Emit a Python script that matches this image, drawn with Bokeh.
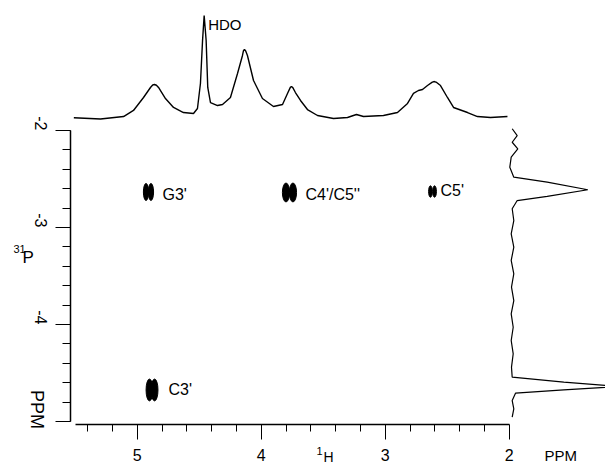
import math
from bokeh.plotting import figure
from bokeh.models import Range1d, LinearAxis, FixedTicker, Label
from bokeh.core.properties import value
from bokeh.embed import file_html
from bokeh.resources import INLINE

# ---------------- data ----------------
# 1H projection (top): chemical shift (ppm) and intensity (HDO = 100)
h_ppm = [5.511, 5.296, 5.110, 5.030, 4.949, 4.893, 4.875, 4.860, 4.845, 4.828,
         4.772, 4.707, 4.627, 4.546, 4.514, 4.490, 4.473, 4.460, 4.444, 4.431,
         4.409, 4.352, 4.312, 4.248, 4.191, 4.151, 4.143, 4.135, 4.125, 4.111,
         4.062, 3.990, 3.901, 3.828, 3.788, 3.765, 3.756, 3.745, 3.724, 3.683,
         3.627, 3.546, 3.417, 3.304, 3.232, 3.175, 3.014, 2.901, 2.820, 2.772,
         2.732, 2.699, 2.659, 2.620, 2.603, 2.585, 2.554, 2.498, 2.449, 2.336,
         2.256, 2.151, 2.014]
h_int = [0.7, -0.5, 1.9, 7.8, 20.4, 30.1, 32.6, 33.0, 32.3, 30.1,
         19.4, 10.7, 5.8, 4.9, 9.7, 34.0, 75.7, 100.0, 75.7, 30.1,
         15.5, 12.6, 13.6, 20.4, 43.7, 61.2, 65.8, 67.0, 65.5, 61.2,
         36.9, 19.4, 11.7, 13.6, 24.3, 30.2, 31.1, 30.0, 25.2, 17.5,
         8.7, 2.9, 0.0, 1.0, 3.9, 1.9, 2.9, 5.8, 14.6, 24.3,
         27.2, 28.2, 32.0, 35.3, 35.9, 35.0, 32.0, 20.4, 10.7, 5.8,
         1.9, 1.0, 1.9]
hdo_ppm = 4.46
hdo_int = 100.0

# 31P projection (right): chemical shift (ppm) and intensity
p_ppm = [-1.982, -2.052, -2.121, -2.189, -2.275, -2.378, -2.481, -2.533, -2.611,
         -2.680, -2.722, -2.807, -2.928, -3.065, -3.203, -3.340, -3.477, -3.615,
         -3.753, -3.890, -4.028, -4.165, -4.302, -4.440, -4.543, -4.595, -4.639,
         -4.673, -4.708, -4.784, -4.869, -4.956]
p_int = [-0.3, 4.7, -0.3, 5.3, -1.3, -2.7, 1.3, 34.7, 75.3,
         34.7, 4.7, -0.3, 1.3, -1.3, 1.3, -1.3, 1.3, -1.0,
         1.3, -1.3, 0.7, -1.3, 0.7, -1.0, -0.3, 51.3, 108.0,
         51.3, 3.0, -0.3, 1.3, -0.3]

# 2D cross peaks (each a doublet of two contours)
xpk_h = [4.929, 4.889, 3.800, 3.744, 2.635, 2.602, 4.901, 4.860]
xpk_p = [-2.634, -2.634, -2.639, -2.639, -2.629, -2.629, -4.675, -4.675]
xpk_wh = [0.042, 0.042, 0.058, 0.058, 0.030, 0.030, 0.055, 0.055]
xpk_wp = [0.175, 0.175, 0.195, 0.195, 0.118, 0.118, 0.225, 0.225]

# cross-peak assignments
label_text = ["G3'", "C4'/C5''", "C5'", "C3'"]
label_h = [4.796, 3.643, 2.554, 4.748]
label_p = [-2.660, -2.660, -2.620, -4.665]

# axes
x_major = [5, 4, 3, 2]
x_tick_labels = ["5", "4", "3", "2"]
y_major = [-2, -3, -4, -5]
y_tick_labels = ["-2", "-3", "-4", ""]

# ---------------- layout (pixel geometry) ----------------
W, H = 605, 463
AX_X, AX_Y = 70, 424      # pixel positions of the left and bottom axis lines

def hx(px):   # 1H ppm at pixel x
    return 5 - (px - 136.7) / 124.0

def py(px):   # 31P ppm at pixel y
    return -2 - (px - 130.0) / 97.0

def ty(px):   # top-projection intensity at pixel y
    return (118.0 - px) / 1.03

def ri(px):   # right-projection intensity at pixel x
    return px - 512.0

FONT = "Liberation Sans"

p = figure(width=W, height=H, output_backend="svg", toolbar_location=None,
           x_range=Range1d(hx(0), hx(W)), y_range=Range1d(py(H), py(0)),
           x_axis_type=None, y_axis_type=None,
           min_border_left=0, min_border_right=0,
           min_border_top=0, min_border_bottom=0,
           outline_line_color=None, background_fill_color="white",
           border_fill_color="white")
p.extra_y_ranges = {"top": Range1d(ty(H), ty(0))}
p.extra_x_ranges = {"right": Range1d(ri(0), ri(W))}

x_minor = [round(5.4 - 0.2 * i, 1) for i in range(17)]
y_minor = [round(-2.0 - 0.2 * i, 1) for i in range(16)]

xaxis = LinearAxis(ticker=FixedTicker(ticks=x_major, minor_ticks=x_minor),
                   bounds=(2.0, 5.5), fixed_location=py(AX_Y),
                   major_label_overrides={t: s for t, s in zip(x_major, x_tick_labels)},
                   axis_line_width=1.5, axis_line_color="black",
                   major_tick_out=15, major_tick_in=0,
                   minor_tick_out=7, minor_tick_in=0,
                   major_tick_line_color="black", minor_tick_line_color="black",
                   major_label_standoff=9,
                   major_label_text_font=FONT, major_label_text_font_size="16px",
                   major_label_text_color="black")
p.add_layout(xaxis, "below")

yaxis = LinearAxis(ticker=FixedTicker(ticks=y_major, minor_ticks=y_minor),
                   bounds=(-5.0, -2.0), fixed_location=hx(AX_X),
                   major_label_overrides={t: s for t, s in zip(y_major, y_tick_labels)},
                   major_label_orientation=-math.pi / 2,
                   axis_line_width=1.5, axis_line_color="black",
                   major_tick_out=15, major_tick_in=0,
                   minor_tick_out=8, minor_tick_in=0,
                   major_tick_line_color="black", minor_tick_line_color="black",
                   major_label_standoff=15,
                   major_label_text_font=FONT, major_label_text_font_size="16px",
                   major_label_text_color="black")
p.add_layout(yaxis, "left")

# projections
p.line(h_ppm, h_int, y_range_name="top", line_color="black", line_width=1.4)
p.line(p_int, p_ppm, x_range_name="right", line_color="black", line_width=1.2)

# cross peaks
p.ellipse(x=xpk_h, y=xpk_p, width=xpk_wh, height=xpk_wp,
          fill_color="black", line_color="black", line_width=1)

p.text(x=label_h, y=label_p, text=label_text, text_font=value(FONT),
       text_font_size="16px", text_baseline="middle", text_align="left",
       text_color="black")

p.text(x=[hdo_ppm], y=[hdo_int], text=["HDO"], y_range_name="top",
       x_offset=4, text_font=value(FONT), text_font_size="15px",
       text_baseline="top", text_align="left", text_color="black")

# axis titles
def add_text(px, py_, txt, size, baseline="top", align="left", angle=0.0):
    p.add_layout(Label(x=hx(px), y=py(py_), text=txt, text_font=FONT,
                       text_font_size=size, text_baseline=baseline,
                       text_align=align, angle=angle, text_color="black"))

add_text(544, 446, "PPM", "15px")
add_text(316, 446, "1", "11px")
add_text(323, 448, "H", "14px")
add_text(13, 244, "31", "11px")
add_text(22, 247, "P", "17px")
add_text(36, 409, "PPM", "18px", baseline="middle", align="center", angle=-math.pi / 2)

open("out.html", "w").write(file_html(p, INLINE))
